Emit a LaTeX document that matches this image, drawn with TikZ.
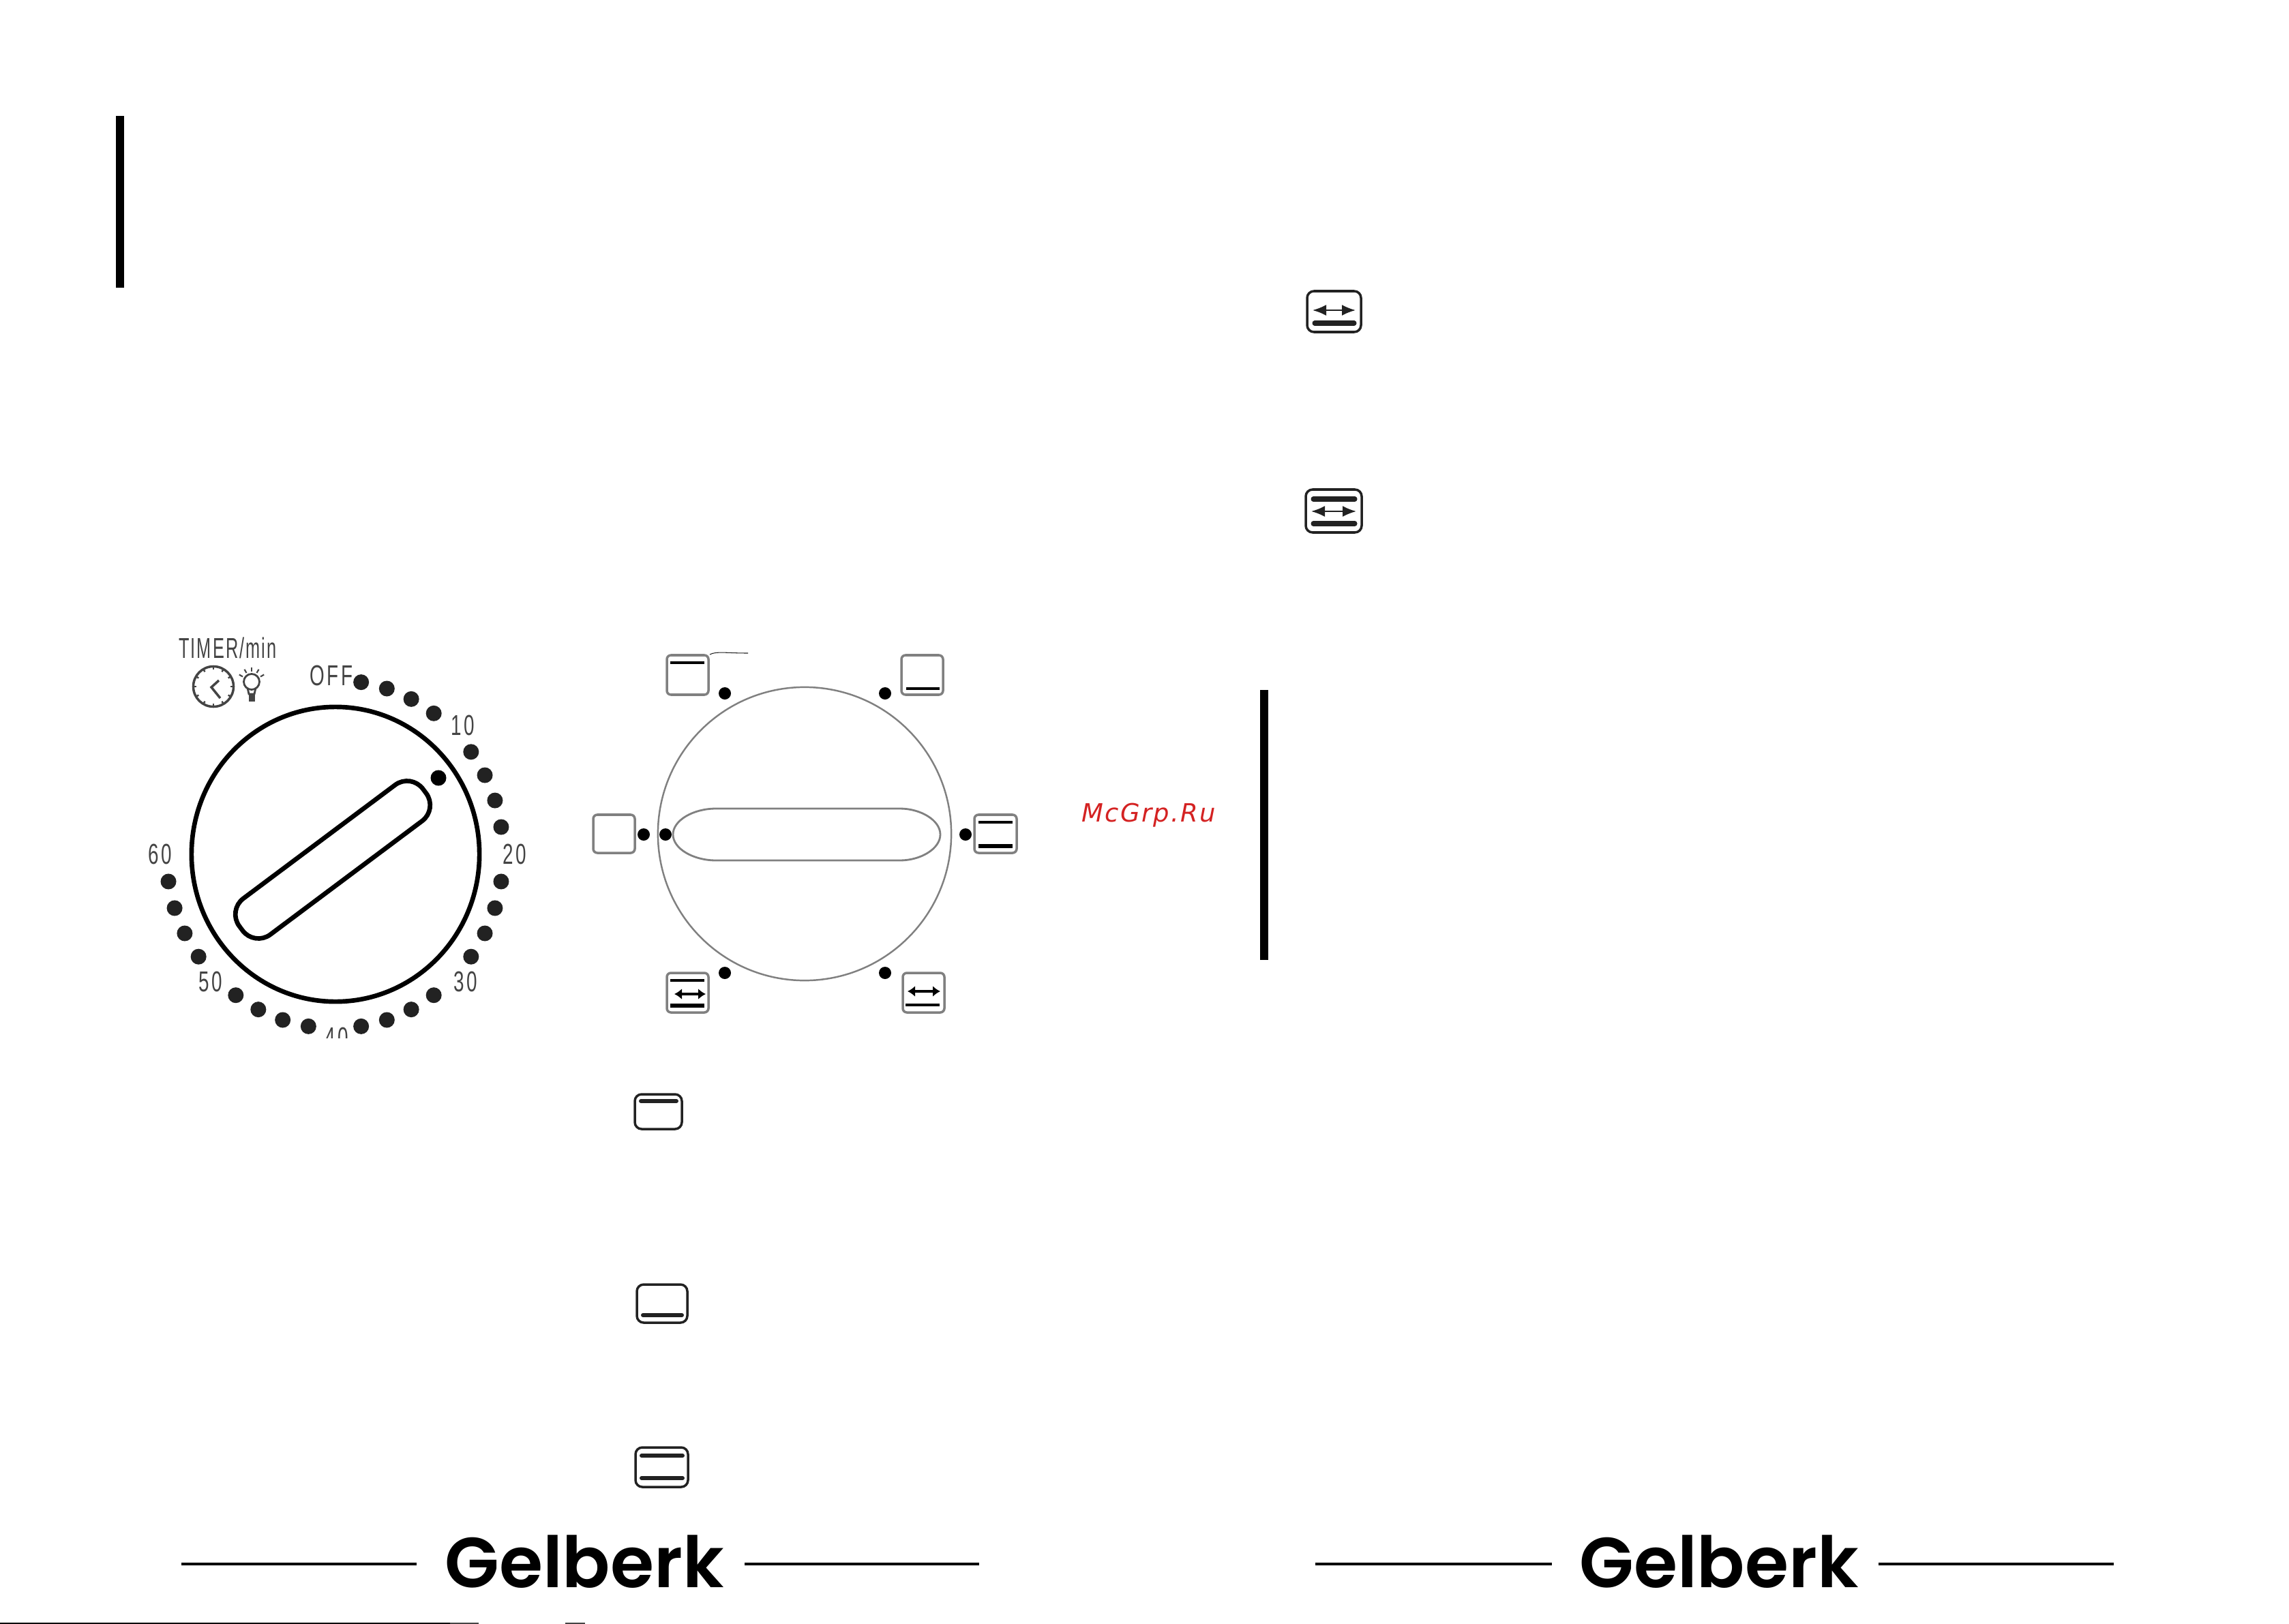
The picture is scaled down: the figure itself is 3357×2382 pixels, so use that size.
\documentclass[tikz,border=0pt]{standalone}
\usepackage{fontspec}
\usepackage{xcolor}
\usetikzlibrary{arrows.meta, shapes.geometric, calc}
\newfontfamily\brandfont[BoldFont=Poppins SemiBold]{Poppins}
\newfontfamily\dialfont[FakeStretch=0.66,LetterSpace=8]{Liberation Sans}
\newfontfamily\timerfont[FakeStretch=0.6,LetterSpace=5]{Liberation Sans}
\newfontfamily\markfont[LetterSpace=6]{DejaVu Sans Oblique}
\definecolor{inkblack}{HTML}{222222}
\definecolor{dialgray}{HTML}{444444}
\definecolor{markred}{HTML}{D42222}

\begin{document}
\begin{tikzpicture}[
    x=0.01cm, y=-0.01cm,
    >={Latex[length=2mm, width=1.6mm]},
    dialtext/.style={inner sep=0, text=dialgray, font=\dialfont\fontsize{12}{14}\selectfont},
    tickdot/.style={circle, fill=inkblack, inner sep=0, minimum size=2.3mm},
    modedot/.style={circle, fill=black, inner sep=0, minimum size=1.8mm},
    modebox/.style={draw=gray, line width=1pt, rounded corners=0.6mm},
    modebar/.style={line width=1.3pt, black},
    modearrow/.style={<->, line width=1.2pt, >={Latex[length=1.1mm, width=1.6mm]}, black},
    iconbox/.style={draw=inkblack, line width=1pt, rounded corners=1mm},
    iconbar/.style={line width=1.7pt, line cap=round, inkblack},
    iconarrow/.style={<->, line width=0.6pt, inkblack},
    titlebar/.style={fill=black, draw=none},
    footline/.style={line width=1.2pt, black},
    brandtext/.style={inner sep=0, anchor=base, font=\brandfont\bfseries\fontsize{29.5}{34}\selectfont}
]
\useasboundingbox (0,0) rectangle (3357,2382);

% title bars
\fill[titlebar] (170,170) rectangle (182,422);
\fill[titlebar] (1848,1012) rectangle (1860,1408);

% timer dial
\node[dialtext, font=\timerfont\fontsize{12}{14}\selectfont] (timertext) at (334,950) {TIMER/min};
\node[dialtext] (offtext) at (486,991) {OFF};
\node[dialtext] (ten) at (679,1064) {10};
\node[dialtext] (twenty) at (755,1253) {20};
\node[dialtext] (thirty) at (683,1440) {30};
\node[dialtext] (fifty) at (309,1440) {50};
\node[dialtext] (sixty) at (235,1253) {60};
\begin{scope}
    \clip (440,1490) rectangle (550,1522);
    \node[dialtext] (forty) at (494,1522) {40};
\end{scope}
\foreach \k in {1,2,3,4,6,7,8,9,11,12,13,14,16,17,18,19,21,22,23,24,26,27,28,29}
    \node[tickdot] (tick\k) at ({491+247*sin(9*\k)},{1253-255.5*cos(9*\k)}) {};

% clock and lamp
\node[circle, draw=dialgray, line width=1pt, inner sep=0, minimum size=5.9mm] (clock) at (313,1007) {};
\foreach \a in {0,30,...,330}
    \draw[dialgray, line width=0.7pt] ($(313,1007)+(\a:3mm)$) -- ($(313,1007)+(\a:2.5mm)$);
\draw[dialgray, line width=1pt] (321,998) -- (310,1008) -- (323,1024);
\node[circle, draw=dialgray, line width=0.8pt, inner sep=0, minimum size=2.3mm] (lamp) at (369,1000) {};
\draw[dialgray, line width=0.8pt] (363,1009) -- (365,1018) -- (373,1018) -- (375,1009);
\fill[dialgray] (364.5,1018) rectangle (373.5,1029);
\foreach \a in {30,60,90,120,150}
    \draw[dialgray, line width=0.6pt] ($(369,1000)+(\a:1.5mm)$) -- ($(369,1000)+(\a:2.1mm)$);

% knob
\node[ellipse, draw=black, line width=1.9pt, inner sep=0, minimum width=42.2mm, minimum height=43.2mm] (knob) at (492,1253) {};
\node[rectangle, draw=black, line width=1.9pt, rounded corners=2.9mm, inner sep=0, minimum width=33.6mm, minimum height=6.6mm, rotate=36.8] (grip) at (488,1261) {};
\node[circle, fill=black, inner sep=0, minimum size=2.3mm] (pointer) at (643,1141) {};

% mode selector
\node[circle, draw=gray, line width=0.7pt, inner sep=0, minimum size=43mm] (selector) at (1180,1223) {};
\coordinate (gripleft) at (987,1224);
\coordinate (gripright) at (1379,1224);
\draw[gray, line width=0.8pt] (gripleft) .. controls (987,1203) and (1017,1186) .. (1050,1186) -- (1320,1186)
    .. controls (1350,1186) and (1379,1203) .. (gripright) .. controls (1379,1245) and (1350,1262) .. (1320,1262)
    -- (1050,1262) .. controls (1017,1262) and (987,1245) .. (gripleft);
\node[modedot] (dottl) at (1063,1017) {};
\node[modedot] (dottr) at (1298,1017) {};
\node[modedot] (dotl) at (944,1224) {};
\node[modedot] (dotll) at (976,1224) {};
\node[modedot] (dotr) at (1416,1224) {};
\node[modedot] (dotbl) at (1063,1427) {};
\node[modedot] (dotbr) at (1298,1427) {};
\draw[inkblack, line width=0.3pt] (1041,960) .. controls (1050,955) and (1065,958) .. (1097,958);

\draw[modebox] (978,961) rectangle (1039,1019);
\draw[modebar] (983,972) -- (1033,972);
\draw[modebox] (1322,961) rectangle (1383,1019);
\draw[modebar] (1329,1010) -- (1378,1010);
\draw[modebox] (870,1195) rectangle (931,1251);
\draw[modebox] (1429,1195) rectangle (1491,1251);
\draw[modebar] (1435,1206) -- (1485,1206);
\draw[modebar, line width=1.6pt] (1435,1241) -- (1485,1241);
\draw[modebox] (978,1427) rectangle (1039,1485);
\draw[modebar] (983,1438) -- (1033,1438);
\draw[modebar, line width=1.6pt] (983,1475) -- (1033,1475);
\draw[modearrow] (989,1458) -- (1035,1458);
\draw[modebox] (1324,1427) rectangle (1385,1485);
\draw[modearrow] (1331,1454) -- (1379,1454);
\draw[modebar] (1328,1474) -- (1378,1474);

% icons of the list
\draw[iconbox] (931,1605) rectangle (1000,1656);
\draw[iconbar] (940,1615) -- (992,1615);
\draw[iconbox] (934,1884) rectangle (1008,1940);
\draw[iconbar] (943,1929) -- (1000,1929);
\draw[iconbox] (932,2123) rectangle (1009,2181);
\draw[iconbar] (941,2135) -- (1001,2135);
\draw[iconbar] (941,2168) -- (1001,2168);
\draw[iconbox] (1917,427) rectangle (1996,487);
\draw[iconarrow] (1925,455) -- (1988,455);
\draw[iconbar, line width=2pt] (1928,474) -- (1986,474);
\draw[iconbox] (1915,718) rectangle (1997,781);
\draw[iconbar, line width=2pt] (1926,732) -- (1987,732);
\draw[iconarrow] (1923,750) -- (1989,750);
\draw[iconbar, line width=2pt] (1926,768) -- (1987,768);

% watermark
\node[inner sep=0, anchor=base west, text=markred, font=\markfont\fontsize{10.5}{12}\selectfont] (mark) at (1586,1205) {McGrp.Ru};

% footers
\node[brandtext] (brandl) at (857,2328) {Gelberk};
\node[brandtext] (brandr) at (2521,2328) {Gelberk};
\coordinate (footla) at (266,2294);
\coordinate (footlb) at (611,2294);
\coordinate (footlc) at (1092,2294);
\coordinate (footld) at (1436,2294);
\coordinate (footra) at (1929,2294);
\coordinate (footrb) at (2276,2294);
\coordinate (footrc) at (2755,2294);
\coordinate (footrd) at (3100,2294);
\draw[footline] (footla) -- (footlb);
\draw[footline] (footlc) -- (footld);
\draw[footline] (footra) -- (footrb);
\draw[footline] (footrc) -- (footrd);

% bottom edge
\fill[black] (0,2380) rectangle (660,2382);
\fill[dialgray] (660,2380) rectangle (702,2382);
\fill[dialgray] (829,2380) rectangle (858,2382);
\end{tikzpicture}
\end{document}
